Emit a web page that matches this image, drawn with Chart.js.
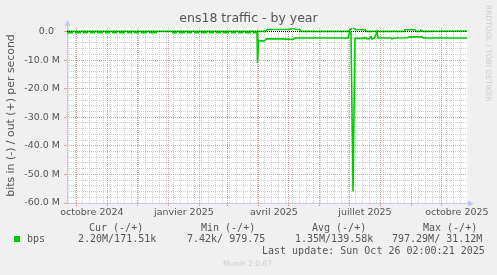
<!DOCTYPE html>
<html><head><meta charset="utf-8">
<script src="https://cdn.jsdelivr.net/npm/chart.js@4/dist/chart.umd.min.js"></script>
<style>
html,body{margin:0;padding:0;background:#f0f0f0;}
#wrap{position:relative;width:497px;height:275px;overflow:hidden;background:#f0f0f0;}
canvas{position:absolute;left:0;top:0;}
.t{position:absolute;font-family:"DejaVu Sans Mono",monospace;font-size:10px;color:#555;white-space:pre;line-height:12px;}
.sw{position:absolute;left:14px;top:236px;width:6px;height:6px;background:#00cc00;}
.munin{position:absolute;left:223px;top:259px;font-family:"DejaVu Sans",sans-serif;font-size:7.5px;color:#cfcfcf;line-height:10px;white-space:pre;}
.rrd{position:absolute;left:484px;top:5px;font-family:"DejaVu Sans",sans-serif;font-size:7.5px;color:#cfcfcf;writing-mode:vertical-rl;white-space:pre;line-height:9px;}
</style></head><body>
<div id="wrap">
<canvas id="c" width="497" height="275"></canvas>
<div class="rrd">RRDTOOL / TOBI OETIKER</div>
<div class="t" style="left:89px;top:221.5px">Cur (-/+)</div>
<div class="t" style="left:201px;top:221.5px">Min (-/+)</div>
<div class="t" style="left:312px;top:221.5px">Avg (-/+)</div>
<div class="t" style="left:423px;top:221.5px">Max (-/+)</div>
<div class="sw"></div>
<div class="t" style="left:27px;top:233.3px">bps</div>
<div class="t" style="left:78px;top:233.3px">2.20M/171.51k</div>
<div class="t" style="left:187px;top:233.3px">7.42k/ 979.75</div>
<div class="t" style="left:295px;top:233.3px">1.35M/139.58k</div>
<div class="t" style="left:392px;top:233.3px">797.29M/ 31.12M</div>
<div class="t" style="left:262px;top:245px">Last update: Sun Oct 26 02:00:21 2025</div>
<div class="munin">Munin 2.0.67</div>
</div>
<script>
// ---- data (x = days since graph start 2024-09-21 02:00, values in Mbit/s) ----
const inDays = [0,6,6.5,8,14,14.5,16,21,21.5,23,28,28.5,30,36,36.5,38,43,43.5,45,50,50.5,52,58,58.5,60,65,65.5,67,72,72.5,74,80,80.5,82,90,90.5,
  105,110,110.5,112,118,118.5,120,125,125.5,127,132,132.5,134,140,140.5,142,147,147.5,149,154,154.5,156,162,162.5,164,169,169.5,171,176,176.5,178,184,184.5,186,
  190,190.5,191.5,193,195,197,199,200,215,226,228,260,270,281,282,283,284,286,288,297,298,300,302,303,304,305,307,309,310,311,324,325,327,341,342,355,356,400];
const inVals = [0.4,0.4,null,0.4,0.4,null,0.4,0.4,null,0.4,0.4,null,0.4,0.4,null,0.4,0.4,null,0.4,0.4,null,0.4,0.4,null,0.4,0.4,null,0.4,0.4,null,0.4,0.4,null,0.4,0.4,null,
  0.4,0.4,null,0.4,0.4,null,0.4,0.4,null,0.4,0.4,null,0.4,0.4,null,0.4,0.4,null,0.4,0.4,null,0.4,0.4,null,0.4,0.4,null,0.4,0.4,null,0.4,0.4,null,0.4,
  0.4,11.0,3.0,3.3,3.2,3.4,2.7,2.6,2.6,2.8,2.3,2.3,2.3,2.3,1.0,0.1,0.5,56.0,2.4,2.4,2.0,2.5,2.6,2.2,1.8,2.6,2.4,1.0,0.1,2.3,2.3,2.6,2.3,2.2,1.9,1.9,2.3,2.3];
const outDays = [0,199,200,223,225,228,233,234,282,283,286,288,298,299,337,338,348,349,353,354,356,400];
const outVals = [0.05,0.05,0.7,0.8,1.1,0.8,0.7,0.05,0.05,0.6,1.4,0.7,0.6,0.05,0.05,0.6,0.6,0.05,0.05,0.5,0.05,0.17];

const monthStarts = ['2024-10-01','2024-11-01','2024-12-01','2025-01-01','2025-02-01','2025-03-01','2025-04-01','2025-05-01','2025-06-01','2025-07-01','2025-08-01','2025-09-01','2025-10-01'];
const xLabelDates = ['2024-10-16','2025-01-16','2025-04-16','2025-07-16','2025-10-16'];
const xLabels = ['octobre 2024','janvier 2025','avril 2025','juillet 2025','octobre 2025'];
const yTickValues = [0,-10,-20,-30,-40,-50,-60];
const yTickLabels = ['0.0  ','-10.0 M','-20.0 M','-30.0 M','-40.0 M','-50.0 M','-60.0 M'];
const yMinorStep = 2;
const firstMonday = '2024-09-23';

// ---- helpers ----
const T0 = Date.UTC(2024,8,21,2,0);
const dayOf = s => (Date.parse(s+'T00:00:00Z') - T0) / 86400000;
const X_MIN = 0, X_MAX = 400, Y_MIN = -60, Y_MAX = 1.22;
const weekLines = [];
for (let d = dayOf(firstMonday); d < X_MAX; d += 7) weekLines.push(d);
const minorY = [];
for (let v = 0; v >= Y_MIN; v -= yMinorStep) minorY.push(v);

const inData = inDays.map((d,i) => ({x:d, y: inVals[i] === null ? null : -inVals[i]}));
const outData = outDays.map((d,i) => ({x:d, y: outVals[i]}));
const zeroData = [{x:X_MIN,y:0},{x:X_MAX,y:0}];

const MAJOR = '#e69a9a', MINOR = '#d0d0d0', AXIS = '#c4c8f0', TXT = '#555';
const noPad = s => { s.paddingLeft = 0; s.paddingRight = 0; s.paddingTop = 0; s.paddingBottom = 0; };
const tickFont = {family:'"DejaVu Sans", sans-serif', size:9.5};

const deco = {
  id:'deco',
  beforeDatasetsDraw(chart){
    const {ctx, chartArea:a} = chart;
    ctx.save();
    ctx.strokeStyle = AXIS; ctx.fillStyle = AXIS; ctx.lineWidth = 1;
    ctx.beginPath();
    ctx.moveTo(a.left+0.5, a.bottom); ctx.lineTo(a.left+0.5, a.top-4);
    ctx.moveTo(a.left, a.bottom+0.5); ctx.lineTo(a.right+3, a.bottom+0.5);
    ctx.stroke();
    ctx.beginPath();
    ctx.moveTo(a.left+0.5, a.top-8); ctx.lineTo(a.left-2.5, a.top-2); ctx.lineTo(a.left+3.5, a.top-2); ctx.closePath(); ctx.fill();
    ctx.beginPath();
    ctx.moveTo(a.right+7, a.bottom+0.5); ctx.lineTo(a.right+1, a.bottom-2.5); ctx.lineTo(a.right+1, a.bottom+3.5); ctx.closePath(); ctx.fill();
    ctx.restore();
  }
};
const canvasBg = {
  id:'canvasBg',
  beforeDraw(chart){
    const {ctx, chartArea:a} = chart;
    ctx.save(); ctx.fillStyle='#f0f0f0'; ctx.fillRect(0,0,chart.width,chart.height);
    ctx.fillStyle='#fff'; ctx.fillRect(a.left,a.top,a.right-a.left,a.bottom-a.top); ctx.restore();
  }
};
const hidden = {grid:{display:false}, border:{display:false}, ticks:{display:false}};

new Chart(document.getElementById('c'), {
  type:'line',
  data:{datasets:[
    {label:'zero', data:zeroData, borderColor:'#000', borderWidth:1, borderDash:[1,1], pointRadius:0},
    {label:'bps in', data:inData, borderColor:'#00cc00', borderWidth:1.6, pointRadius:0, tension:0, spanGaps:false},
    {label:'bps out', data:outData, borderColor:'#00cc00', borderWidth:1.6, pointRadius:0, tension:0}
  ]},
  options:{
    responsive:false, animation:false, devicePixelRatio:1,
    layout:{padding:{left:0,right:0,top:0,bottom:52}},
    plugins:{
      legend:{display:false}, tooltip:{enabled:false},
      title:{display:true, text:'ens18 traffic - by year', color:TXT,
        font:{family:'"DejaVu Sans", sans-serif', size:12.5, weight:'normal', lineHeight:1.2}, padding:{top:11,bottom:2}}
    },
    scales:{
      xm:{type:'linear', min:X_MIN, max:X_MAX, position:'bottom', weight:0,
        afterBuildTicks:s=>{ s.ticks = monthStarts.map(d=>({value:dayOf(d)})); },
        afterFit:s=>{ s.height = 0; noPad(s); },
        grid:{color:MAJOR, tickColor:MAJOR, tickLength:3, z:-1}, border:{display:false, dash:[1,1]},
        ticks:{display:false}},
      xw:{type:'linear', min:X_MIN, max:X_MAX, position:'bottom', weight:0,
        afterBuildTicks:s=>{ s.ticks = weekLines.map(d=>({value:d})); },
        afterFit:s=>{ s.height = 0; noPad(s); },
        grid:{color:MINOR, drawTicks:false, z:-2}, border:{display:false, dash:[1,1]},
        ticks:{display:false}},
      x:{type:'linear', min:X_MIN, max:X_MAX, position:'bottom', weight:5,
        afterBuildTicks:s=>{ s.ticks = xLabelDates.map(d=>({value:dayOf(d)})); },
        afterFit:s=>{ s.height = 20; noPad(s); },
        grid:{display:false, drawTicks:false, tickLength:0}, border:{display:false},
        ticks:{autoSkip:false, maxRotation:0, padding:4, color:TXT, font:tickFont, callback:(v,i)=>xLabels[i]}},
      y:{type:'linear', min:Y_MIN, max:Y_MAX, position:'left', weight:0,
        afterBuildTicks:s=>{ s.ticks = yTickValues.map(v=>({value:v})); },
        afterFit:s=>{ s.width = 67; noPad(s); },
        grid:{color:MAJOR, tickColor:MAJOR, tickLength:3, z:-1}, border:{display:false, dash:[1,1]},
        ticks:{padding:4, color:TXT, font:tickFont, callback:(v,i)=>yTickLabels[i]},
        title:{display:true, text:'bits in (-) / out (+) per second', color:TXT,
          font:{family:'"DejaVu Sans", sans-serif', size:10.9, lineHeight:1.2}, padding:{top:4.5,bottom:0}}},
      y2:{type:'linear', min:Y_MIN, max:Y_MAX, position:'left', weight:3,
        afterBuildTicks:s=>{ s.ticks = minorY.map(v=>({value:v})); },
        afterFit:s=>{ s.width = 0; noPad(s); },
        grid:{color:MINOR, drawTicks:false, z:-2}, border:{display:false, dash:[1,1]},
        ticks:{display:false}},
      yr:{type:'linear', min:Y_MIN, max:Y_MAX, position:'right', weight:0,
        afterFit:s=>{ s.width = 30; noPad(s); }, ...hidden}
    }
  },
  plugins:[canvasBg, deco]
});
</script>
</body></html>
